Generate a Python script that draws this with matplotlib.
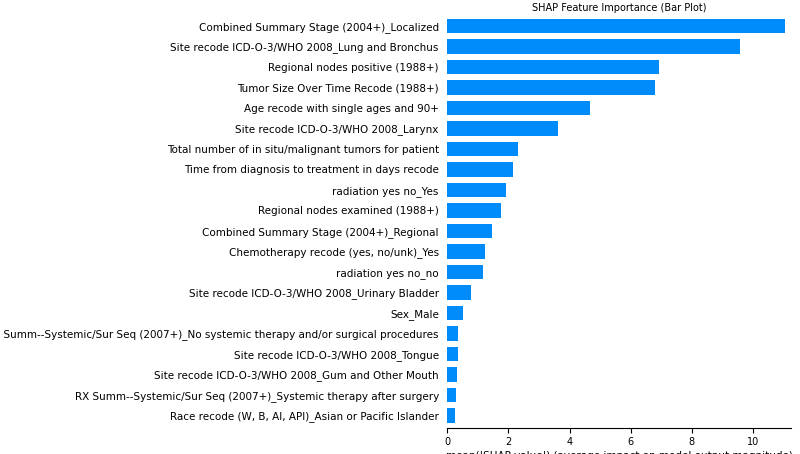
import matplotlib
matplotlib.use("Agg")
import matplotlib.pyplot as plt

features = [
    "Combined Summary Stage (2004+)_Localized",
    "Site recode ICD-O-3/WHO 2008_Lung and Bronchus",
    "Regional nodes positive (1988+)",
    "Tumor Size Over Time Recode (1988+)",
    "Age recode with single ages and 90+",
    "Site recode ICD-O-3/WHO 2008_Larynx",
    "Total number of in situ/malignant tumors for patient",
    "Time from diagnosis to treatment in days recode",
    "radiation yes no_Yes",
    "Regional nodes examined (1988+)",
    "Combined Summary Stage (2004+)_Regional",
    "Chemotherapy recode (yes, no/unk)_Yes",
    "radiation yes no_no",
    "Site recode ICD-O-3/WHO 2008_Urinary Bladder",
    "Sex_Male",
    "RX Summ--Systemic/Sur Seq (2007+)_No systemic therapy and/or surgical procedures",
    "Site recode ICD-O-3/WHO 2008_Tongue",
    "Site recode ICD-O-3/WHO 2008_Gum and Other Mouth",
    "RX Summ--Systemic/Sur Seq (2007+)_Systemic therapy after surgery",
    "Race recode (W, B, AI, API)_Asian or Pacific Islander",
]
importance = [11.05, 9.57, 6.92, 6.79, 4.66, 3.61, 2.33, 2.16, 1.93, 1.77,
              1.48, 1.25, 1.18, 0.79, 0.52, 0.36, 0.36, 0.33, 0.30, 0.26]

fig = plt.figure(figsize=(8, 4.54), dpi=100)
ax = fig.add_axes([0.559, 0.058, 0.43, 0.912])
ypos = list(range(len(features)))[::-1]
ax.barh(ypos, importance, height=0.7, color="#008bfb")
ax.set_yticks(ypos)
ax.set_yticklabels(features, fontsize=7.5)
ax.set_ylim(-0.6, len(features) - 0.4)
ax.set_xlim(0, 11.25)
ax.set_xticks([0, 2, 4, 6, 8, 10])
ax.tick_params(axis="x", labelsize=7)
ax.tick_params(axis="y", length=0, pad=6)
for s in ["top", "right", "left"]:
    ax.spines[s].set_visible(False)
ax.set_xlabel("mean(|SHAP value|) (average impact on model output magnitude)", fontsize=7.5, labelpad=2)
ax.set_title("SHAP Feature Importance (Bar Plot)", fontsize=7, pad=2)
fig.savefig("out.png", dpi=100)
